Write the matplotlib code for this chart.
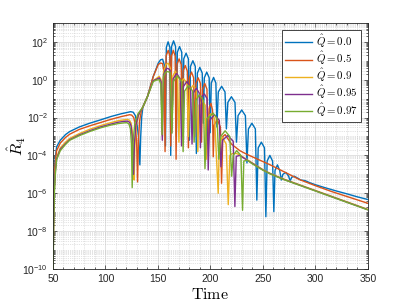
import numpy as np
import matplotlib
matplotlib.use('Agg')
import matplotlib.pyplot as plt
from matplotlib.ticker import MultipleLocator, FixedLocator, LogLocator, NullFormatter

# values: time and log10(R4) for each charge
t_q00 = [50.1, 50.4, 51, 52, 53.5, 57, 62, 66, 75, 85, 95, 105, 115, 120, 124, 126.5, 128.5, 130, 131.5, 132.8, 133.6, 134.5, 135.7, 140, 145.5, 150.3, 152.5, 154.5, 156.2, 157.2,
         158, 159.7, 161.4, 162.2, 163, 164.9, 166.8, 167.6, 168.5, 170.6, 172.7, 173.6, 174.6, 176.8, 179, 180,
         181, 183.3, 185.6, 186.6, 187.6, 189.9, 192.2, 193.2, 194.2, 196.5, 198.8, 199.8, 200.8, 203, 205.2, 206.2,
         207.5, 210.7, 213.9, 215.2, 216.6, 220, 223.4, 224.8, 226.3, 229.8, 233.3, 234.8, 236.2, 239.5, 242.8, 244.2,
         245.5, 248.5, 251.5, 252.8, 254, 256.6, 259.2, 260.4, 261.5, 263.8, 266, 267.5, 269, 271.8, 274.5, 275.8,
         277.5, 279.8, 283, 286, 290, 295, 300, 310, 320, 330, 340, 350]
r_q00 = [-10, -7.5, -5.5, -4.3, -3.55, -3.2, -2.9, -2.74, -2.5, -2.3, -2.13, -1.95, -1.8, -1.74, -1.69, -1.72, -1.9, -2.3, -3.0, -4.5, -3.0, -2.0, -1.44, -0.9, 0.16, 0.87, 1.05, 1.08, 0.75, -3.5,
         1.7, 2.0, 1.7, -4.0, 1.75, 2.05, 1.75, -3.0, 1.45, 1.75, 1.45, -2.5, 1.1, 1.4, 1.1, -3.2,
         0.7, 1.0, 0.7, -3.9, 0.35, 0.65, 0.35, -2.3, 0.1, 0.4, 0.1, -2.8, -0.18, 0.12, -0.18, -2.5,
         -0.65, -0.35, -0.65, -2.6, -1.2, -0.9, -1.2, -3.3, -1.9, -1.6, -1.9, -4.4, -2.6, -2.3, -2.6, -6.36,
         -3.6, -3.3, -3.6, -7.24, -4.3, -4.0, -4.3, -6.97, -4.8, -4.5, -4.8, -5.3, -5.0, -4.9, -5.1, -5.35,
         -5.15, -5.1, -5.2, -5.3, -5.33, -5.45, -5.55, -5.72, -5.88, -6.03, -6.19, -6.33]

t_q05 = [50.15, 50.5, 51, 52, 53.5, 57, 62, 66, 75, 85, 95, 105, 115, 120, 123, 125, 127, 128.5, 129.7, 130.6, 131.5, 132.5, 134, 135.7, 140, 145.5, 150.3, 152.5, 154.4, 155.8, 156.8,
         157.8, 159.8, 161.4, 162.2, 163, 164.6, 166.4, 167.3, 168.2, 170.2, 172.2, 173.1, 174, 176, 178, 179,
         180, 182, 184, 185, 186.2, 188.3, 190.5, 191.5, 192.5, 194.6, 196.7, 197.7, 198.8, 200.5, 202, 202.7,
         203.6, 206.5, 209.5, 210.6, 211.8, 214, 217, 220, 228, 235, 247, 257, 266, 275, 285, 300, 315, 325, 340, 350]
r_q05 = [-10, -7.5, -5.8, -4.5, -3.75, -3.35, -3.05, -2.88, -2.63, -2.44, -2.27, -2.1, -1.95, -1.89, -1.85, -1.87, -2.0, -2.4, -3.2, -5.4, -3.2, -2.2, -1.7, -1.44, -0.9, 0.16, 0.8, 0.88, 0.85, 0.4, -3.8,
         1.25, 1.55, 1.25, -3.5, 1.25, 1.55, 1.25, -4.2, 0.8, 1.1, 0.8, -3.0, 0.45, 0.75, 0.45, -3.6,
         0.1, 0.4, 0.1, -3.0, -0.2, 0.1, -0.2, -3.3, -0.5, -0.2, -0.5, -3.4, -1.5, -1.25, -1.6, -4.07,
         -2.4, -2.1, -2.5, -5.47, -3.0, -2.9, -3.15, -3.4, -3.75, -3.95, -4.25, -4.5, -4.75, -5.0, -5.28, -5.6, -5.9, -6.08, -6.35, -6.53]

t_q09 = [50.2, 50.6, 51.2, 52.2, 53.5, 57, 62, 66, 75, 85, 95, 105, 112, 118, 121, 123, 124.5, 125.8, 126.8, 127.4, 128, 129.5, 131.5, 135.7, 140, 145.5, 148.7, 151.2, 153, 154.3,
         155.3, 157.5, 159.8, 161.8, 163.3, 164.3, 166.5, 168.7, 170, 171.2, 174.5, 177.7, 179,
         180.3, 183.5, 186.7, 188, 189.2, 192, 195, 196.2, 197.4, 200.5, 204, 207.4,
         208.5, 211.5, 215, 217, 218.5, 221, 225, 230, 240, 250, 257, 270, 285, 300, 315, 330, 350]
r_q09 = [-10, -7.5, -5.9, -4.8, -4.1, -3.6, -3.3, -3.1, -2.85, -2.62, -2.43, -2.27, -2.17, -2.12, -2.1, -2.15, -2.3, -2.8, -4.0, -5.3, -3.5, -2.4, -1.9, -1.44, -0.9, -0.05, 0.07, 0.18, 0.0, -3.0,
         0.4, 0.8, 0.87, 0.6, -2.6, 0.2, 0.45, 0.2, -3.3, -0.2, 0.05, -0.2, -3.0,
         -0.55, -0.3, -0.55, -3.8, -1.35, -1.1, -1.35, -4.2, -2.0, -1.8, -2.05, -6.0,
         -3.3, -3.05, -3.4, -6.6, -4.0, -3.9, -3.9, -4.05, -4.4, -4.75, -4.95, -5.25, -5.55, -5.85, -6.15, -6.45, -6.85]

t_q095 = [50.2, 50.6, 51.2, 52.2, 53.5, 57, 62, 66, 75, 85, 95, 105, 112, 118, 121, 123, 124.5, 125.7, 126.8, 127.6, 129, 131.5, 135.7, 140, 145.5, 148.7, 151.2, 153, 154.2,
          155.3, 157.5, 159.5, 161.6, 163.2, 164.5, 167.8, 171.2, 172.5, 173.9, 177.5, 181.1, 182.5,
          183.7, 186.5, 189.3, 190.5, 191.6, 194.2, 196.8, 197.9, 199.3, 203.8, 208.5, 210,
          211.5, 216.5, 221.7, 223.3, 224.6, 228, 232, 240, 250, 257, 270, 285, 300, 315, 330, 350]
r_q095 = [-10, -7.7, -6.0, -4.9, -4.18, -3.68, -3.38, -3.17, -2.92, -2.7, -2.5, -2.35, -2.25, -2.2, -2.19, -2.25, -2.45, -3.2, -5.0, -3.4, -2.4, -1.85, -1.44, -0.9, -0.05, 0.02, 0.1, -0.1, -3.2,
          0.25, 0.55, 0.6, 0.5, -2.8, 0.05, 0.33, 0.05, -3.5, -0.4, -0.1, -0.4, -3.4,
          -0.7, -0.45, -0.7, -3.6, -0.9, -0.75, -1.0, -4.77, -2.15, -1.85, -2.15, -4.6,
          -3.2, -2.95, -3.25, -6.7, -4.05, -4.0, -4.15, -4.42, -4.77, -4.97, -5.27, -5.57, -5.87, -6.17, -6.47, -6.87]

t_q097 = [50.25, 50.7, 51.3, 52.3, 53.5, 57, 62, 66, 75, 85, 95, 105, 112, 118, 120.5, 122.5, 123.8, 124.8, 125.5, 126.3, 128, 131, 135.7, 140, 145.5, 148.7, 151.2, 152.8, 154,
          155.2, 157, 159.3, 161.6, 163.3, 164.7, 168.5, 172.6, 174, 175.4, 179.2, 183, 184.5,
          186, 189.6, 193.3, 194.8, 196.6, 202.6, 206.3, 208, 209.8, 214, 218.4, 220.2,
          221.7, 225, 229, 230.6, 231.8, 235, 240, 250, 257, 270, 285, 300, 315, 330, 350]
r_q097 = [-10, -7.8, -6.1, -5.0, -4.24, -3.75, -3.42, -3.2, -2.96, -2.74, -2.55, -2.4, -2.32, -2.28, -2.27, -2.35, -2.6, -3.4, -5.7, -3.3, -2.3, -1.8, -1.44, -0.9, -0.1, -0.02, 0.0, -0.25, -2.9,
          0.15, 0.38, 0.43, 0.38, -2.83, -0.1, 0.2, -0.1, -3.8, -0.6, -0.3, -0.6, -3.3,
          -1.1, -0.8, -1.1, -4.7, -2.05, -1.77, -2.05, -4.2, -3.0, -2.7, -3.0, -5.1,
          -4.0, -3.75, -4.0, -6.9, -4.3, -4.25, -4.45, -4.78, -4.98, -5.28, -5.58, -5.88, -6.18, -6.48, -6.88]

series = [
    (t_q00, r_q00, '#0072BD', r'$\hat{Q} = 0.0$'),
    (t_q05, r_q05, '#D95319', r'$\hat{Q} = 0.5$'),
    (t_q09, r_q09, '#EDB120', r'$\hat{Q} = 0.9$'),
    (t_q095, r_q095, '#7E2F8E', r'$\hat{Q} = 0.95$'),
    (t_q097, r_q097, '#77AC30', r'$\hat{Q} = 0.97$'),
]

plt.rcParams['font.family'] = ['Liberation Sans', 'DejaVu Sans']
plt.rcParams['mathtext.fontset'] = 'custom'
plt.rcParams['mathtext.rm'] = 'Liberation Sans'
plt.rcParams['mathtext.it'] = 'Liberation Sans:italic'
plt.rcParams['mathtext.bf'] = 'Liberation Sans:bold'

fig = plt.figure(figsize=(4.07, 3.05), dpi=100)
ax = fig.add_axes([0.130, 0.118, 0.774, 0.807])

for t, r, c, lab in series:
    ax.semilogy(t, 10.0 ** np.array(r), color=c, lw=1.0, label=lab)

ax.set_xlim(50, 350)
ax.set_ylim(1e-10, 1e3)

ax.xaxis.set_major_locator(MultipleLocator(50))
ax.xaxis.set_minor_locator(MultipleLocator(10))
ax.yaxis.set_major_locator(FixedLocator([10.0 ** k for k in range(-10, 3, 2)]))
ax.yaxis.set_minor_locator(LogLocator(base=10, subs=np.arange(1, 10), numticks=100))
ax.yaxis.set_minor_formatter(NullFormatter())

ax.grid(True, which='major', color='#dcdcdc', lw=0.6, ls='-')
ax.grid(True, which='minor', color='#c8c8c8', lw=0.5, ls=':')
ax.set_axisbelow(True)

ax.tick_params(which='both', direction='in', top=True, right=True, colors='#262626',
               labelsize=7.5, width=0.5)
ax.tick_params(which='major', length=3)
ax.tick_params(which='minor', length=1.5)
for s in ax.spines.values():
    s.set_color('#262626')
    s.set_linewidth(0.6)

ax.set_xlabel(r'$\mathrm{Time}$', fontsize=11.5, math_fontfamily='cm', labelpad=2)
ax.set_ylabel(r'$\hat{R}_4$', fontsize=11.5, math_fontfamily='cm')
ax.yaxis.set_label_coords(-0.08, 0.5)

leg = ax.legend(loc='upper right', bbox_to_anchor=(0.977, 0.9715), borderaxespad=0,
                fontsize=7.8, handlelength=2.5, handletextpad=0.3, labelspacing=0.0,
                borderpad=0.3, fancybox=False, framealpha=1, edgecolor='#262626')
leg.get_frame().set_linewidth(0.6)
for txt in leg.get_texts():
    txt.set_math_fontfamily('cm')

fig.savefig('out.png', dpi=100)
